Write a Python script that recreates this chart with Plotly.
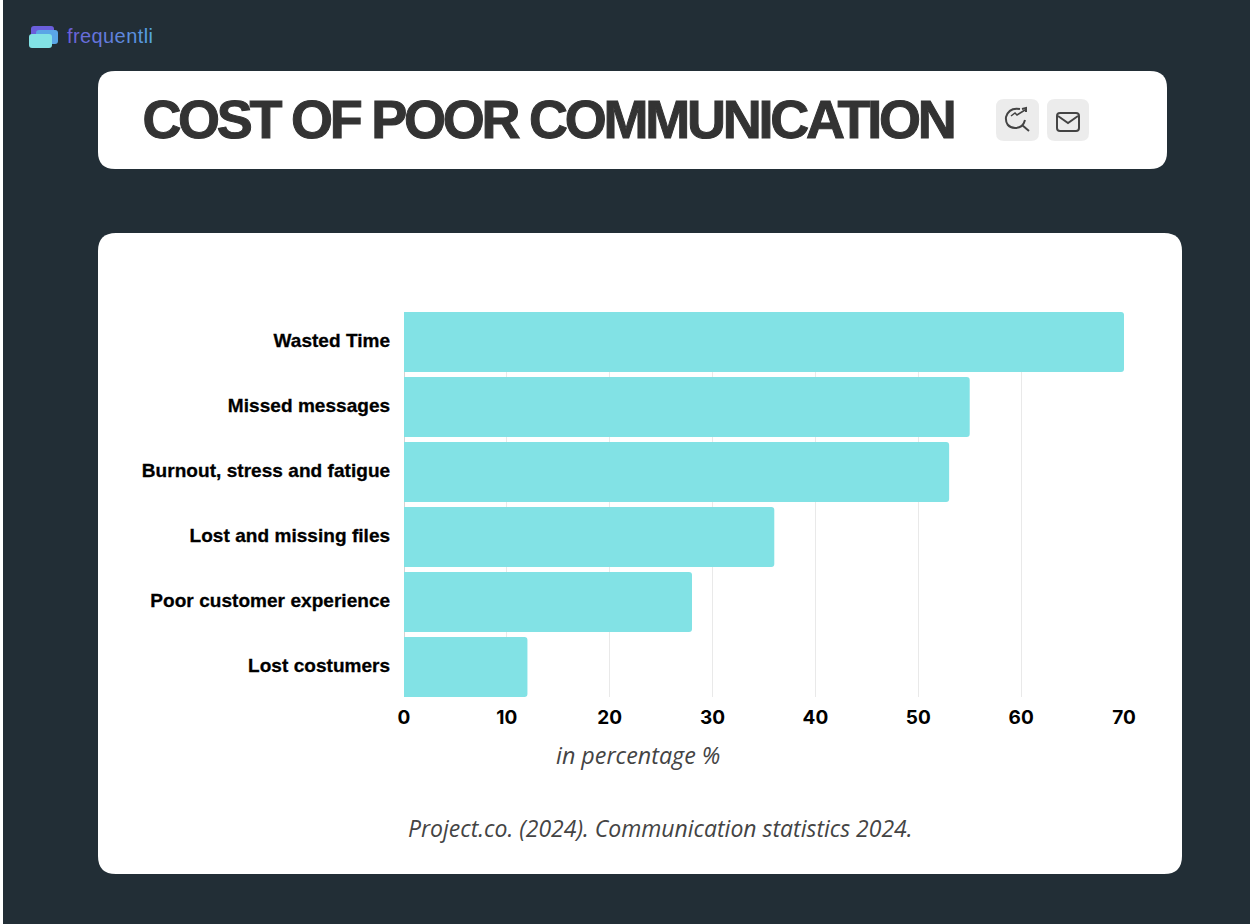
import plotly.graph_objects as go

W, H = 1250, 924

categories = ["Wasted Time", "Missed messages", "Burnout, stress and fatigue",
              "Lost and missing files", "Poor customer experience", "Lost costumers"]
percent = [70, 55, 53, 36, 28, 12]
x_ticks = [0, 10, 20, 30, 40, 50, 60, 70]

title_text = "COST OF POOR COMMUNICATION"
axis_note = "in percentage %"
source_note = "Project.co. (2024). Communication statistics 2024."
brand = "frequentli"
brand_colors = ["#6c5fd8", "#6a66d9", "#686dda", "#6575db", "#627ddc",
                "#5f86dd", "#5c8fde", "#5997df", "#569fe0", "#54a7e1"]

BG = "#222e36"
BAR = "#82e2e5"


def px(x):
    return x / W


def py(y):
    return 1 - y / H


def pt(x, y):
    return f"{px(x):.5f},{py(y):.5f}"


def round_rect(x0, y0, x1, y1, r, fill, line=None, width=0):
    # rounded card as a paper-space path, pixel coordinates measured from top left
    d = (f"M{pt(x0 + r, y0)} L{pt(x1 - r, y0)} Q{pt(x1, y0)} {pt(x1, y0 + r)} "
         f"L{pt(x1, y1 - r)} Q{pt(x1, y1)} {pt(x1 - r, y1)} L{pt(x0 + r, y1)} "
         f"Q{pt(x0, y1)} {pt(x0, y1 - r)} L{pt(x0, y0 + r)} Q{pt(x0, y0)} {pt(x0 + r, y0)} Z")
    return dict(type="path", xref="paper", yref="paper", path=d, fillcolor=fill,
                line=dict(color=line or fill, width=width), layer="below")


def stroke(d, color="#444444", width=2):
    return dict(type="path", xref="paper", yref="paper", path=d,
                line=dict(color=color, width=width), layer="above")


shapes = [
    dict(type="rect", xref="paper", yref="paper", x0=0, x1=px(3), y0=0, y1=1,
         fillcolor="#ffffff", line=dict(width=0), layer="below"),
    round_rect(98, 71, 1167, 169, 17, "#ffffff"),
    round_rect(98, 233, 1182, 874, 18, "#ffffff"),
    # logo
    round_rect(31, 26, 54, 42, 3, "#6b5fdc"),
    round_rect(36, 30, 58, 44, 3, "#5aa6e6"),
    round_rect(29, 34, 52, 48, 3, "#82e2e5"),
    # header icons
    round_rect(996, 99, 1039, 141, 8, "#ececec"),
    round_rect(1047, 99, 1089, 141, 8, "#ececec"),
    # magnifier with arrow
    stroke(f"M{pt(1020, 109)} Q{pt(1009, 107)} {pt(1006, 117)} Q{pt(1005, 127)} {pt(1015, 128)} "
           f"Q{pt(1023, 128)} {pt(1025, 120)}"),
    stroke(f"M{pt(1022, 125)} L{pt(1029, 131)}"),
    stroke(f"M{pt(1011, 116)} L{pt(1015, 113)} L{pt(1017, 115)} L{pt(1025, 110)}", width=1.5),
    stroke(f"M{pt(1022, 109)} L{pt(1026, 108)} L{pt(1026, 112)}"),
    # envelope
    dict(round_rect(1057, 113, 1079, 131, 3, "rgba(0,0,0,0)", "#444444", 2), layer="above"),
    stroke(f"M{pt(1058, 116)} L{pt(1068, 123)} L{pt(1078, 116)}"),
]

annotations = [
    dict(text="".join(f'<span style="color:{c}">{ch}</span>' for ch, c in zip(brand, brand_colors)),
         x=px(66.5), y=py(36), xref="paper", yref="paper", xanchor="left", yanchor="middle",
         showarrow=False, font=dict(family="Liberation Sans", size=20)),
    # x is left of the text: the spacing below shrinks it around its centre
    dict(text=title_text, x=px(97.5), y=py(119), xref="paper", yref="paper",
         xanchor="left", yanchor="middle", showarrow=False,
         font=dict(family="Liberation Sans", size=54, color="#333333", weight=700)),
    dict(text=axis_note, x=px(638), y=py(755), xref="paper", yref="paper",
         xanchor="center", yanchor="middle", showarrow=False,
         font=dict(family="Open Sans", size=23.3, color="#444444", style="italic")),
    dict(text=source_note, x=px(660), y=py(828), xref="paper", yref="paper",
         xanchor="center", yanchor="middle", showarrow=False,
         font=dict(family="Open Sans", size=23, color="#444444", style="italic")),
]

fig = go.Figure()
fig.add_trace(go.Bar(
    x=percent, y=categories, orientation="h",
    marker=dict(color=BAR, cornerradius=3, line=dict(width=0)),
    hoverinfo="x+y",
))
fig.update_layout(
    width=W, height=H,
    margin=dict(l=0, r=0, t=0, b=0),
    paper_bgcolor=BG,
    plot_bgcolor="rgba(0,0,0,0)",
    showlegend=False,
    bargap=0.077,
    shapes=shapes,
    annotations=annotations,
    xaxis=dict(
        domain=[px(404), px(1124)], range=[0, 70], automargin=False,
        tickvals=x_ticks, showgrid=True, gridcolor="#e9e9e9", gridwidth=1,
        zeroline=True, zerolinecolor="#d4d4d4", zerolinewidth=1,
        showline=False, ticks="outside", ticklen=3, tickcolor="rgba(0,0,0,0)",
        tickfont=dict(family="Inter", size=19, color="#000000", weight=700),
    ),
    yaxis=dict(
        domain=[py(697), py(312)], range=[5.4615, -0.4615],
        categoryorder="array", categoryarray=categories,
        showgrid=False, zeroline=False, showline=False, automargin=False,
        ticks="outside", ticklen=9, tickcolor="rgba(0,0,0,0)",
        tickfont=dict(family="Liberation Sans", size=19, color="#000000", weight=700),
    ),
)

# plotly has no letter spacing option and the page keeps a default body margin
post = """
document.documentElement.style.overflow = 'hidden';
document.body.style.margin = '0';
var notes = document.querySelectorAll('.annotation-text');
notes[0].style.letterSpacing = '0.4px';
notes[1].style.letterSpacing = '-3.26px';
notes[1].style.stroke = '#333333';
notes[1].style.strokeWidth = '1px';
document.querySelectorAll('.ytick text').forEach(function (t) {
    t.style.letterSpacing = '0.05px';
    t.style.stroke = '#000000';
    t.style.strokeWidth = '0.3px';
    t.setAttribute('dy', '-1.5');
});
"""
fig.write_html("out.html", config=dict(displayModeBar=False), post_script=post)
